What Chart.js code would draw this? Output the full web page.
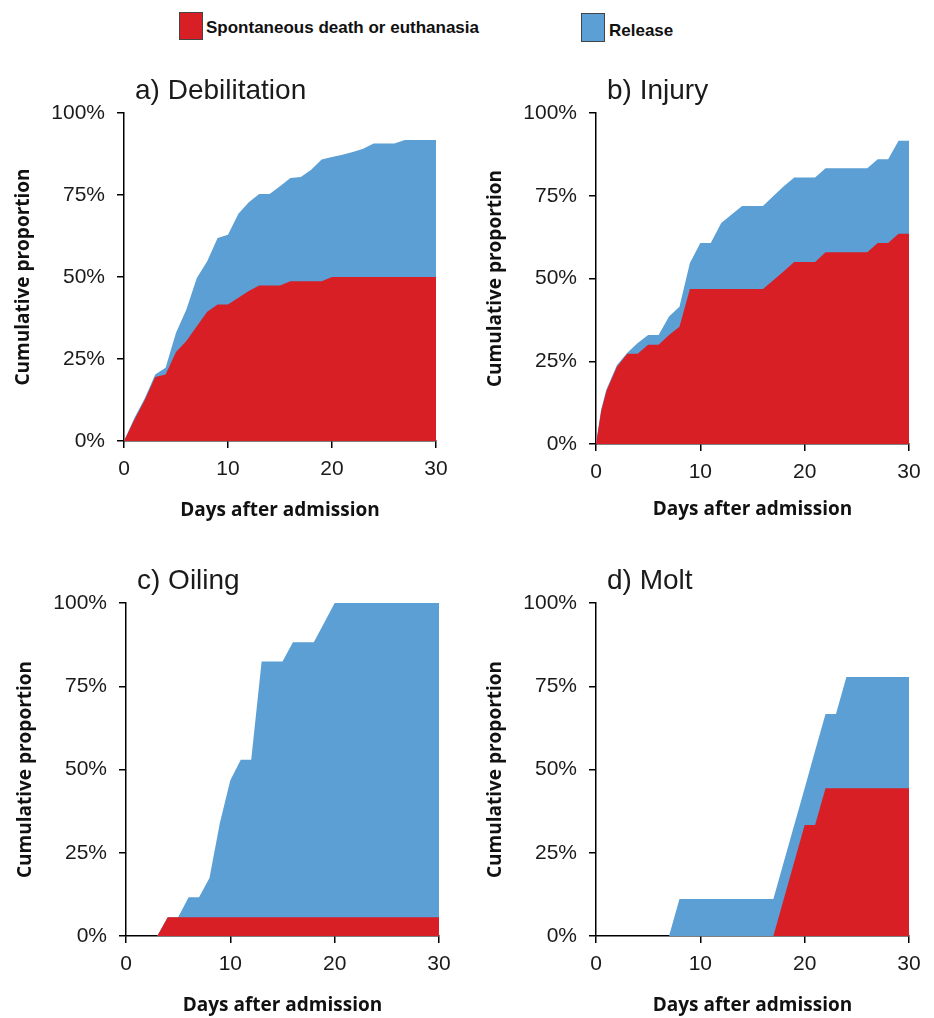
<!DOCTYPE html>
<html>
<head>
<meta charset="utf-8">
<script src="https://cdn.jsdelivr.net/npm/chart.js@4.4.1/dist/chart.umd.min.js"></script>
<style>
  html, body { margin: 0; padding: 0; background: #fff; overflow: hidden; }
  body { width: 934px; height: 1018px; position: relative; }
  canvas { position: absolute; }
  .key { position: absolute; font: bold 17px "Liberation Sans", Arial, sans-serif; color: #111; white-space: nowrap; }
  .swatch { position: absolute; border: 1px solid #444; box-sizing: border-box; }
</style>
</head>
<body>

<div class="swatch" style="left:179px; top:12px; width:24px; height:28px; background:#D81F26;"></div>
<div class="key" style="left:206px; top:18px;">Spontaneous death or euthanasia</div>
<div class="swatch" style="left:581px; top:13px; width:24px; height:29px; background:#5B9FD4;"></div>
<div class="key" style="left:609px; top:21px;">Release</div>

<canvas id="chartA"></canvas>
<canvas id="chartB"></canvas>
<canvas id="chartC"></canvas>
<canvas id="chartD"></canvas>

<script>
// Cumulative proportions (%).
// "total" is the top of the blue area (death + release).

// a) Debilitation
const debDays = [0,1,2,3,4,5,6,7,8,9,10,11,12,13,14,15,16,17,18,19,20,21,22,23,24,25,26,27,28,29,30];
const debDeath = [0,6.5,12.5,19.5,20.3,27.1,30.5,35,39.4,41.6,41.6,43.7,45.7,47.4,47.4,47.4,48.7,48.7,48.7,48.7,50,50,50,50,50,50,50,50,50,50,50];
const debTotal = [0,7,13,20.3,22.3,33,40.1,49.7,54.8,61.9,62.9,69.3,72.8,75.3,75.3,77.7,80.2,80.5,82.7,85.8,86.6,87.3,88.1,89.1,90.7,90.7,90.7,91.8,91.8,91.8,91.8];

// b) Injury
const injDays = [0,0.5,1,2,3,4,5,6,7,8,9,10,11,12,13,14,15,16,17,18,19,20,21,22,23,24,25,26,27,28,29,30];
const injDeath = [0,10,16,23.3,27.3,27.3,30,30,32.9,35.4,46.8,46.8,46.8,46.8,46.8,46.8,46.8,46.8,49.5,52.2,55,55,55,57.9,57.9,57.9,57.9,57.9,60.7,60.7,63.5,63.5];
const injTotal = [0,10.5,16.5,23.8,27.6,30.5,32.9,32.9,38.5,41.5,54.7,60.7,60.7,66.8,69.3,71.9,71.9,71.9,74.9,77.9,80.5,80.5,80.5,83.3,83.3,83.3,83.3,83.3,86,86,91.6,91.6];

// c) Oiling
const oilDays = [0,1,2,3,4,5,6,7,8,9,10,11,12,13,14,15,16,17,18,19,20,21,22,23,24,25,26,27,28,29,30];
const oilDeath = [0,0,0,0,5.6,5.6,5.6,5.6,5.6,5.6,5.6,5.6,5.6,5.6,5.6,5.6,5.6,5.6,5.6,5.6,5.6,5.6,5.6,5.6,5.6,5.6,5.6,5.6,5.6,5.6,5.6];
const oilTotal = [0,0,0,0,5.6,5.6,11.6,11.6,17.4,34,46.8,52.9,52.9,82.4,82.4,82.4,88.2,88.2,88.2,94.1,100,100,100,100,100,100,100,100,100,100,100];

// d) Molt
const moltDays = [0,1,2,3,4,5,6,7,8,9,10,11,12,13,14,15,16,17,18,19,20,21,22,23,24,25,26,27,28,29,30];
const moltDeath = [0,0,0,0,0,0,0,0,0,0,0,0,0,0,0,0,0,0,11.1,22.2,33.3,33.3,44.4,44.4,44.4,44.4,44.4,44.4,44.4,44.4,44.4];
const moltTotal = [0,0,0,0,0,0,0,0,11.1,11.1,11.1,11.1,11.1,11.1,11.1,11.1,11.1,11.1,22.2,33.3,44.4,55.6,66.7,66.7,77.8,77.8,77.8,77.8,77.8,77.8,77.8];

const yTicks = [0, 25, 50, 75, 100];
const xTicks = [0, 10, 20, 30];

const RED = '#D81F26';
const BLUE = '#5B9FD4';
const INK = '#1a1a1a';

// Draws the panel heading ("a) Debilitation" etc.) above the plot area
const panelTitlePlugin = {
    id: 'panelTitle',
    afterDraw(chart, args, opts) {
        const { ctx, chartArea } = chart;
        ctx.save();
        ctx.font = '28px "Liberation Sans", Arial, sans-serif';
        ctx.fillStyle = INK;
        ctx.textBaseline = 'middle';
        ctx.textAlign = 'left';
        ctx.fillText(opts.text, chartArea.left + 11, chartArea.top - 22);
        ctx.restore();
    }
};

function toPoints(days, values) {
    return days.map((d, i) => ({ x: d, y: values[i] }));
}

// box: where the plot area sits on the page
function makePanel(id, title, days, death, total, box) {
    const AXIS_W = 124, TOP_PAD = 53, X_H = 82;
    const canvas = document.getElementById(id);
    canvas.width = AXIS_W + box.w + box.right;
    canvas.height = TOP_PAD + box.h + X_H;
    canvas.style.left = (box.left - AXIS_W) + 'px';
    canvas.style.top = (box.top - TOP_PAD) + 'px';

    new Chart(canvas.getContext('2d'), {
        type: 'line',
        data: {
            datasets: [{
                label: 'Spontaneous death or euthanasia',
                data: toPoints(days, death),
                backgroundColor: RED,
                borderColor: 'rgba(0,0,0,0)',
                borderWidth: 0,
                pointRadius: 0,
                fill: 'origin',
                order: 1
            }, {
                label: 'Release',
                data: toPoints(days, total),
                backgroundColor: BLUE,
                borderColor: 'rgba(0,0,0,0)',
                borderWidth: 0,
                pointRadius: 0,
                fill: 'origin',
                order: 2
            }]
        },
        options: {
            responsive: false,
            animation: false,
            devicePixelRatio: 1,
            layout: { padding: { top: TOP_PAD, right: box.right, left: 0, bottom: 0 } },
            plugins: {
                legend: { display: false },
                tooltip: { enabled: false },
                panelTitle: { text: title }
            },
            scales: {
                x: {
                    type: 'linear',
                    min: 0,
                    max: 30,
                    z: 1,
                    afterBuildTicks: s => { s.ticks = xTicks.map(v => ({ value: v })); },
                    afterFit: s => { s.height = X_H; },
                    border: { display: true, color: '#000', width: 1.5 },
                    grid: { drawOnChartArea: false, drawTicks: true, tickLength: 7, color: '#000', lineWidth: 1.5 },
                    ticks: {
                        padding: 9,
                        color: INK,
                        font: { family: '"Liberation Sans", Arial, sans-serif', size: 21 }
                    },
                    title: {
                        display: true,
                        text: 'Days after admission',
                        color: '#111',
                        padding: { top: 0, bottom: box.titlePad },
                        font: { family: '"Open Sans", sans-serif', size: 19, weight: 'bold' }
                    }
                },
                y: {
                    min: 0,
                    max: 100,
                    z: 1,
                    afterBuildTicks: s => { s.ticks = yTicks.map(v => ({ value: v })); },
                    afterFit: s => { s.width = AXIS_W; },
                    border: { display: true, color: '#000', width: 1.5 },
                    grid: { drawOnChartArea: false, drawTicks: true, tickLength: 7, color: '#000', lineWidth: 1.5 },
                    ticks: {
                        padding: 12,
                        color: INK,
                        font: { family: '"Liberation Sans", Arial, sans-serif', size: 21 },
                        callback: v => v + '%'
                    },
                    title: {
                        display: true,
                        text: 'Cumulative proportion',
                        color: '#111',
                        padding: { top: 12, bottom: 0 },
                        font: { family: '"Open Sans", sans-serif', size: 19, weight: 'bold' }
                    }
                }
            }
        },
        plugins: [panelTitlePlugin]
    });
}

makePanel('chartA', 'a) Debilitation', debDays, debDeath, debTotal,
    { left: 124, top: 113, w: 312, h: 328, right: 28, titlePad: 1 });
makePanel('chartB', 'b) Injury', injDays, injDeath, injTotal,
    { left: 596, top: 113, w: 313, h: 331, right: 25, titlePad: 5 });
makePanel('chartC', 'c) Oiling', oilDays, oilDeath, oilTotal,
    { left: 126, top: 603, w: 313, h: 333, right: 28, titlePad: 1 });
makePanel('chartD', 'd) Molt', moltDays, moltDeath, moltTotal,
    { left: 596, top: 603, w: 313, h: 333, right: 25, titlePad: 1 });
</script>
</body>
</html>
